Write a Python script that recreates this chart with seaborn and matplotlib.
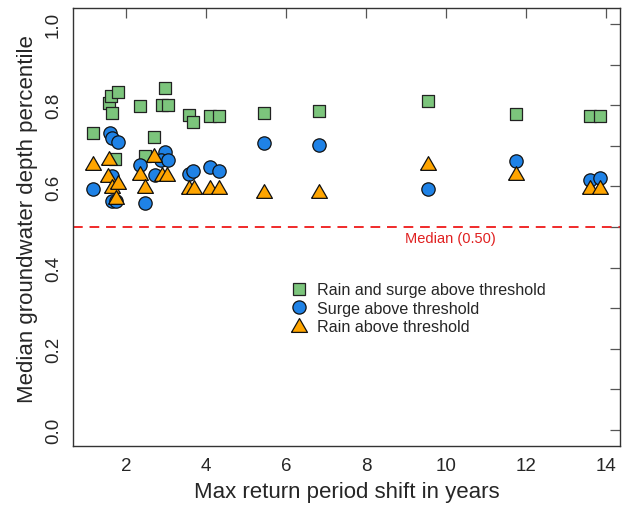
import matplotlib
matplotlib.use("Agg")
import matplotlib.pyplot as plt
from matplotlib.lines import Line2D
import seaborn as sns
import pandas as pd
import numpy as np

# Rain and surge above threshold (green squares)
both_x = [1.19, 1.59, 1.64, 1.81, 1.66, 1.74, 2.36, 2.49, 2.71, 2.99, 2.91, 3.06,
          3.59, 3.69, 4.11, 4.34, 5.46, 6.84, 9.54, 11.76, 13.59, 13.84]
both_y = [0.733, 0.805, 0.822, 0.832, 0.780, 0.667, 0.798, 0.674, 0.723, 0.842, 0.802, 0.800,
          0.775, 0.758, 0.773, 0.773, 0.780, 0.785, 0.810, 0.778, 0.773, 0.773]

# Surge above threshold (blue circles)
surge_x = [1.19, 1.61, 1.66, 1.81, 1.66, 1.66, 1.76, 2.36, 2.49, 2.74, 2.99, 2.89, 3.06,
           3.59, 3.69, 4.11, 4.34, 5.46, 6.84, 9.54, 11.76, 13.59, 13.84]
surge_y = [0.593, 0.731, 0.719, 0.709, 0.625, 0.563, 0.563, 0.654, 0.560, 0.627, 0.686, 0.664, 0.664,
           0.630, 0.637, 0.649, 0.637, 0.706, 0.701, 0.593, 0.662, 0.615, 0.620]

# Rain above threshold (orange triangles)
rain_x = [1.19, 1.59, 1.56, 1.66, 1.81, 1.76, 2.36, 2.49, 2.71, 2.91, 3.04,
          3.59, 3.71, 4.11, 4.34, 5.46, 6.84, 9.54, 11.76, 13.59, 13.84]
rain_y = [0.659, 0.669, 0.627, 0.602, 0.612, 0.575, 0.632, 0.602, 0.677, 0.630, 0.630,
          0.598, 0.598, 0.598, 0.598, 0.590, 0.590, 0.657, 0.632, 0.598, 0.598]

labels = ["Rain and surge above threshold", "Surge above threshold", "Rain above threshold"]
median_value = 0.5

df = pd.concat([
    pd.DataFrame({"x": both_x, "y": both_y, "group": labels[0]}),
    pd.DataFrame({"x": surge_x, "y": surge_y, "group": labels[1]}),
    pd.DataFrame({"x": rain_x, "y": rain_y, "group": labels[2]}),
], ignore_index=True)

sns.set_style("white")
plt.rcParams["font.family"] = ["Liberation Sans", "DejaVu Sans"]

fig = plt.figure(figsize=(6.27, 5.06), dpi=100)
ax = fig.add_axes([73/627, 1-447/506, (620-73)/627, (447-9)/506])

tri = [(-1, -0.866), (1, -0.866), (0, 0.866), (-1, -0.866)]
styles = {
    labels[0]: dict(marker="s", color="#7cc57c", edgecolor="#222222", s=66),
    labels[1]: dict(marker="o", color="#1f82e6", edgecolor="#111111", s=92),
    labels[2]: dict(marker=tri, color="#ffa500", edgecolor="#111111", s=130),
}
for g in labels:
    st = styles[g]
    sns.scatterplot(data=df[df.group == g], x="x", y="y", ax=ax,
                    marker=st["marker"], color=st["color"], edgecolor=st["edgecolor"],
                    s=st["s"], linewidth=0.9, legend=False, zorder=3)

ax.axhline(median_value, color="#f02a2a", lw=1.4, ls=(0, (5, 3.5)), zorder=2)
ax.text(10.12, median_value - 0.01, "Median (0.50)", color="#e02020", fontsize=10.5,
        ha="center", va="top")

ax.set_xlim(0.68, 14.35)
ax.set_ylim(-0.04, 1.04)
ax.set_xticks([2, 4, 6, 8, 10, 12, 14])
ax.set_yticks(np.arange(0, 1.01, 0.1))
ax.set_yticklabels(["0.0", "", "0.2", "", "0.4", "", "0.6", "", "0.8", "", "1.0"])
ax.tick_params(direction="in", length=7, width=0.9, color="#555555",
               top=True, right=True, labelsize=13.5, pad=8)
for lab in ax.get_yticklabels():
    lab.set_rotation(90)
    lab.set_va("center")
for sp in ax.spines.values():
    sp.set_color("#333333")
    sp.set_linewidth(1.0)

ax.set_xlabel("Max return period shift in years", fontsize=16, labelpad=5)
ax.set_ylabel("Median groundwater depth percentile", fontsize=16, labelpad=5)
ax.yaxis.set_label_coords(-0.064, 0.52)

handles = [
    Line2D([], [], ls="", marker="s", markerfacecolor="#7cc57c", markeredgecolor="#222222", markersize=8, markeredgewidth=0.9),
    Line2D([], [], ls="", marker="o", markerfacecolor="#1f82e6", markeredgecolor="#111111", markersize=9.5, markeredgewidth=0.9),
    Line2D([], [], ls="", marker=tri, markerfacecolor="#ffa500", markeredgecolor="#111111", markersize=11.5, markeredgewidth=0.9),
]
ax.legend(handles, labels, loc="upper left", bbox_to_anchor=(283/627, 1-277/506),
          bbox_transform=fig.transFigure, frameon=False, fontsize=11.6,
          handletextpad=0.5, labelspacing=0.2, borderaxespad=0, handlelength=1.2)

fig.savefig("out.png", dpi=100)
